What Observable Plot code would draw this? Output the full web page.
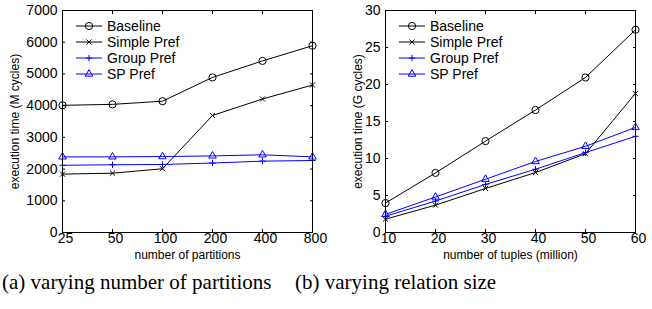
<!DOCTYPE html>
<html>
<head>
<meta charset="utf-8">
<script src="https://cdn.jsdelivr.net/npm/d3@7"></script>
<script src="https://cdn.jsdelivr.net/npm/@observablehq/plot@0.6"></script>
<style>
  html, body { margin: 0; padding: 0; background: #fff; }
  #wrap { position: relative; width: 652px; height: 309px; overflow: hidden; }
  #left, #right { position: absolute; top: 0; }
  #left { left: 0; }
  #right { left: 326px; }
  .cap { position: absolute; top: 270px; font-family: "Liberation Serif", "Times New Roman", serif; font-size: 21px; color: #000; white-space: nowrap; }
</style>
</head>
<body>
<div id="wrap">
  <div id="left"></div>
  <div id="right"></div>
  <div class="cap" style="left:2px">(a) varying number of partitions</div>
  <div class="cap" style="left:295px">(b) varying relation size</div>
</div>
<script>
// ---- data ----
const seriesNames = ["Baseline", "Simple Pref", "Group Pref", "SP Pref"];

const partitions = [25, 50, 100, 200, 400, 800];
const partBaseline = [4010, 4040, 4140, 4890, 5410, 5890];
const partSimple   = [1840, 1870, 2010, 3690, 4210, 4650];
const partGroup    = [2120, 2135, 2145, 2190, 2250, 2270];
const partSP       = [2385, 2385, 2395, 2415, 2450, 2385];

const tuples = [10, 20, 30, 40, 50, 60];
const tupBaseline = [3.98, 8.05, 12.35, 16.55, 20.95, 27.4];
const tupSimple   = [1.8, 3.7, 5.95, 8.1, 10.65, 18.8];
const tupGroup    = [2.2, 4.25, 6.5, 8.55, 10.8, 13.0];
const tupSP       = [2.45, 4.8, 7.2, 9.6, 11.65, 14.2];

const leftYTicks = [0, 1000, 2000, 3000, 4000, 5000, 6000, 7000];
const rightYTicks = [0, 5, 10, 15, 20, 25, 30];

const styles = {
  "Baseline":    {color: "#000000", symbol: "circle", r: 3.6},
  "Simple Pref": {color: "#000000", symbol: "times", r: 2.4},
  "Group Pref":  {color: "#0000ff", symbol: "plus", r: 2.2},
  "SP Pref":     {color: "#0000ff", symbol: "triangle", r: 2.8}
};

function table(xs, cols) {
  const rows = [];
  seriesNames.forEach((s, i) => xs.forEach((x, j) => rows.push({series: s, x: String(x), xv: x, y: cols[i][j]})));
  return rows;
}

function chart({rows, xDomain, xIsPoint, yDomain, yTicks, xTicks, xLabel, yLabel, marginLeft, marginRight, yLabelDx}) {
  const W = 326, H = 262;
  const font = "Liberation Sans, Arial, Helvetica, sans-serif";
  const xOpt = xIsPoint
    ? {type: "point", domain: xDomain, padding: 0}
    : {type: "linear", domain: xDomain};
  const xKey = xIsPoint ? "x" : "xv";
  const marks = [];
  for (const s of seriesNames) {
    const st = styles[s];
    const d = rows.filter(r => r.series === s);
    marks.push(Plot.line(d, {x: xKey, y: "y", stroke: st.color, strokeWidth: 1}));
    marks.push(Plot.dot(d, {x: xKey, y: "y", symbol: () => st.symbol, r: st.r, stroke: st.color, fill: "none", strokeWidth: 1}));
  }
  const tickLen = 3;
  const blank = () => "";
  const fmt = d3.format("d");
  marks.push(
    Plot.frame({stroke: "#000", strokeWidth: 1}),
    Plot.axisY(yTicks, {anchor: "left", tickSize: tickLen, dx: tickLen, tickFormat: blank, label: null, stroke: "#000"}),
    Plot.axisY(yTicks, {anchor: "right", tickSize: tickLen, dx: -tickLen, tickFormat: blank, label: null, stroke: "#000"}),
    Plot.axisY(yTicks, {anchor: "left", tickSize: 0, tickPadding: 5, fontSize: 14, label: null, tickFormat: fmt, color: "#000"}),
    Plot.axisX(xTicks, {anchor: "bottom", tickSize: tickLen, dy: -tickLen, tickFormat: blank, label: null, stroke: "#000"}),
    Plot.axisX(xTicks, {anchor: "top", tickSize: tickLen, dy: tickLen, tickFormat: blank, label: null, stroke: "#000"}),
    Plot.axisX(xTicks, {anchor: "bottom", tickSize: 0, tickPadding: 1, dx: 3, fontSize: 14, label: null, tickFormat: xIsPoint ? undefined : fmt, color: "#000"}),
    Plot.text([xLabel], {frameAnchor: "bottom", dy: 23, lineAnchor: "middle", fontSize: 12, fill: "#000"}),
    Plot.text([yLabel], {frameAnchor: "left", dx: yLabelDx, rotate: -90, textAnchor: "middle", lineAnchor: "middle", fontSize: 12, fill: "#000"})
  );
  const svg = Plot.plot({
    width: W, height: H,
    marginLeft, marginRight, marginTop: 10, marginBottom: H - 232,
    style: {fontFamily: font, background: "transparent", color: "#000", overflow: "visible"},
    x: {...xOpt, axis: null},
    y: {domain: yDomain, axis: null},
    marks
  });
  // legend
  const g = d3.select(svg).append("g").attr("font-family", font).attr("font-size", 14).attr("text-anchor", "start");
  const sym = {
    circle: d3.symbolCircle, times: d3.symbolTimes, plus: d3.symbolPlus, triangle: d3.symbolTriangle
  };
  seriesNames.forEach((s, i) => {
    const st = styles[s];
    const y = 10 + 16 * (i + 1);
    const x0 = marginLeft + 14, x1 = marginLeft + 40, xm = (x0 + x1) / 2;
    g.append("line").attr("x1", x0).attr("x2", x1).attr("y1", y).attr("y2", y).attr("stroke", st.color).attr("stroke-width", 1);
    g.append("path").attr("transform", `translate(${xm},${y})`)
      .attr("d", d3.symbol(sym[st.symbol], st.r * st.r * Math.PI)())
      .attr("fill", "none").attr("stroke", st.color).attr("stroke-width", 1);
    g.append("text").attr("x", marginLeft + 45).attr("y", y).attr("dy", "0.35em").attr("fill", "#000").text(s);
  });
  return svg;
}

document.getElementById("left").appendChild(chart({
  rows: table(partitions, [partBaseline, partSimple, partGroup, partSP]),
  xDomain: partitions.map(String), xIsPoint: true,
  yDomain: [0, 7000], yTicks: leftYTicks, xTicks: partitions.map(String),
  xLabel: "number of partitions", yLabel: "execution time (M cycles)",
  marginLeft: 62, marginRight: 14, yLabelDx: -47
}));

document.getElementById("right").appendChild(chart({
  rows: table(tuples, [tupBaseline, tupSimple, tupGroup, tupSP]),
  xDomain: [10, 60], xIsPoint: false,
  yDomain: [0, 30], yTicks: rightYTicks, xTicks: tuples,
  xLabel: "number of tuples (million)", yLabel: "execution time (G cycles)",
  marginLeft: 59, marginRight: 17, yLabelDx: -27
}));
</script>
</body>
</html>
